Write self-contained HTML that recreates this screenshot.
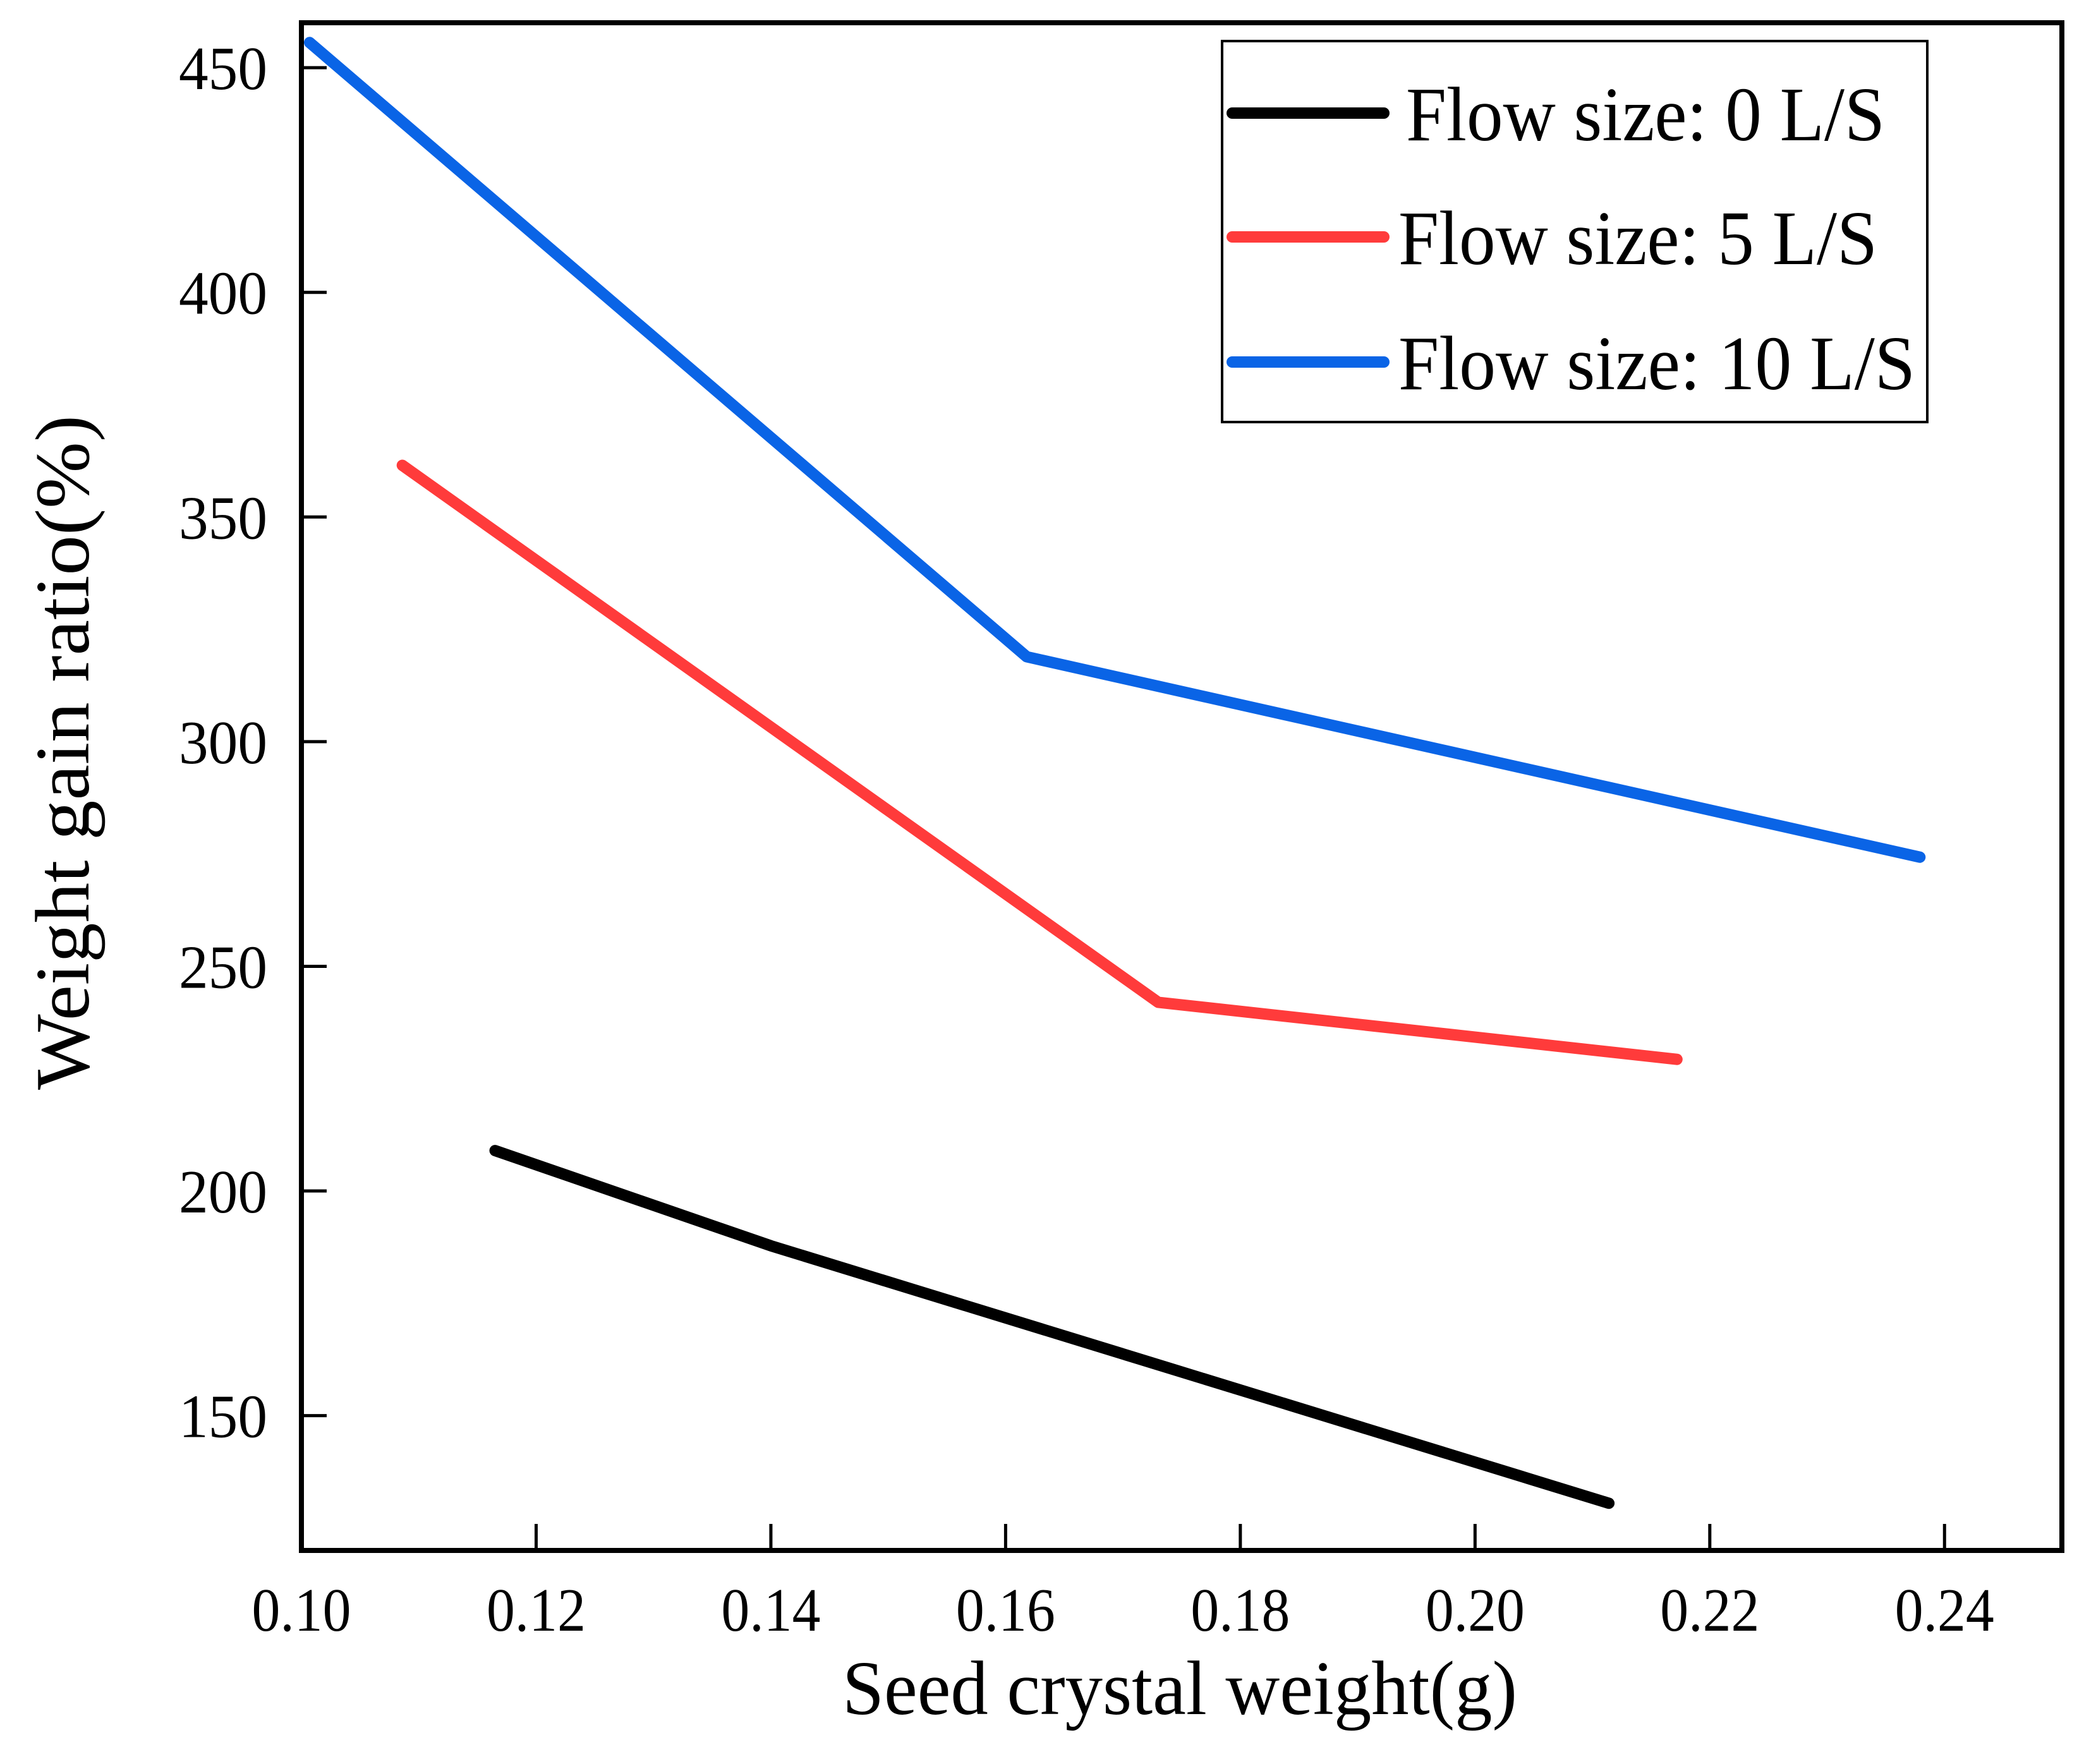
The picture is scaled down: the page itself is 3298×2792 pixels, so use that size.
<!DOCTYPE html>
<html><head><meta charset="utf-8"><style>
html,body{margin:0;padding:0;background:#fff;}
svg{display:block;}
text{font-family:"Liberation Serif",serif;fill:#000;}
</style></head><body>
<svg id="chart" width="3298" height="2792" viewBox="0 0 3298 2792" xmlns="http://www.w3.org/2000/svg">
<rect width="3298" height="2792" fill="#fff"/>
<g id="series"></g>
<g id="axes"></g>
<text transform="translate(140,1725) rotate(-90)" font-size="122" textLength="1068" lengthAdjust="spacingAndGlyphs">Weight gain ratio(%)</text>
<text x="1333" y="2713" font-size="122" textLength="1068" lengthAdjust="spacingAndGlyphs">Seed crystal weight(g)</text>
<g>
<rect x="1934" y="65" width="1116" height="603" fill="#fff" stroke="#000" stroke-width="4"/>
<line x1="1950" y1="179" x2="2190" y2="179" stroke="#000" stroke-width="18" stroke-linecap="round"/>
<text x="2225" y="222" font-size="122" textLength="758" lengthAdjust="spacingAndGlyphs">Flow size: 0 L/S</text>
<line x1="1950" y1="375" x2="2190" y2="375" stroke="#ff3b3b" stroke-width="18" stroke-linecap="round"/>
<text x="2213" y="418" font-size="122" textLength="758" lengthAdjust="spacingAndGlyphs">Flow size: 5 L/S</text>
<line x1="1950" y1="573" x2="2190" y2="573" stroke="#0a64e6" stroke-width="18" stroke-linecap="round"/>
<text x="2213" y="616" font-size="122" textLength="818" lengthAdjust="spacingAndGlyphs">Flow size: 10 L/S</text>
</g>
</svg>
<script>
const xTicks = [0.10, 0.12, 0.14, 0.16, 0.18, 0.20, 0.22, 0.24];
const xTickLabels = ["0.10","0.12","0.14","0.16","0.18","0.20","0.22","0.24"];
const yTicks = [150, 200, 250, 300, 350, 400, 450];
const yTickLabels = ["150","200","250","300","350","400","450"];
const flow0X = [0.1165, 0.14, 0.2114];
const flow0Y = [209, 187.8, 130.5];
const flow5X = [0.1086, 0.1730, 0.2172];
const flow5Y = [361.5, 242, 229.3];
const flow10X = [0.1007, 0.1618, 0.2379];
const flow10Y = [455.6, 318.9, 274.3];

const L=477, R=3263, T=36, B=2454;
const xMin=0.10, xMax=0.25, yMin=120, yMax=460;
function sx(v){return L+(v-xMin)/(xMax-xMin)*(R-L);}
function sy(v){return B-(v-yMin)/(yMax-yMin)*(B-T);}
const NS="http://www.w3.org/2000/svg";
function mk(tag, attrs, parent){const e=document.createElementNS(NS,tag);for(const k in attrs)e.setAttribute(k,attrs[k]);parent.appendChild(e);return e;}
const series=document.getElementById('series');
const axes=document.getElementById('axes');
function drawLine(xs,ys,color,name){
  const pts=xs.map((x,i)=>sx(x).toFixed(1)+','+sy(ys[i]).toFixed(1)).join(' ');
  const p=mk('polyline',{points:pts,fill:'none',stroke:color,'stroke-width':18,'stroke-linejoin':'round','stroke-linecap':'round'},series);
  
  
}
drawLine(flow0X,flow0Y,'#000','line-flow-0');
drawLine(flow5X,flow5Y,'#ff3b3b','line-flow-5');
drawLine(flow10X,flow10Y,'#0a64e6','line-flow-10');
const frame=mk('rect',{x:L,y:T,width:R-L,height:B-T,fill:'none',stroke:'#000','stroke-width':8},axes);


xTicks.forEach((v,i)=>{
  const t=mk('line',{x1:sx(v),x2:sx(v),y1:B,y2:B-42,stroke:'#000','stroke-width':5},axes);
  
  
  const lb=mk('text',{x:sx(v),y:2581,'font-size':98,'text-anchor':'middle',textLength:157,lengthAdjust:'spacingAndGlyphs'},axes);
  lb.textContent=xTickLabels[i];
  
  
});
yTicks.forEach((v,i)=>{
  const t=mk('line',{x1:L,x2:L+40,y1:sy(v),y2:sy(v),stroke:'#000','stroke-width':5},axes);
  
  
  const lb=mk('text',{x:423,y:sy(v)+34,'font-size':98,'text-anchor':'end',textLength:140,lengthAdjust:'spacingAndGlyphs'},axes);
  lb.textContent=yTickLabels[i];
  
  
});
</script>
</body></html>
